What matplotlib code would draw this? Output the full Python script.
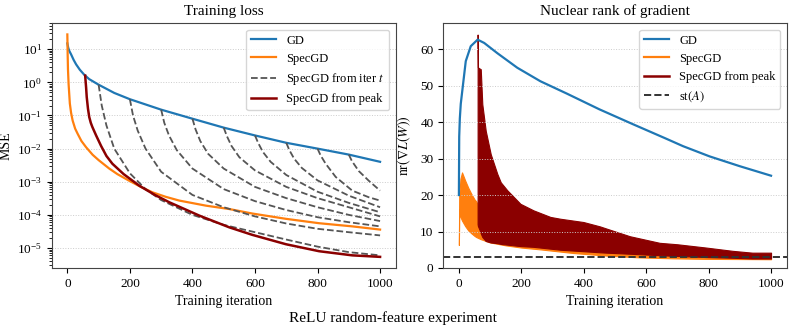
import matplotlib
matplotlib.use("Agg")
import matplotlib.pyplot as plt
from matplotlib.lines import Line2D
import numpy as np

plt.rcParams['font.family'] = ['Liberation Serif', 'DejaVu Serif']
plt.rcParams['mathtext.fontset'] = 'stix'

# ---- training loss (left) ----
gd_it = [0, 3, 6, 12, 20, 28, 40, 54, 70, 100, 150, 200, 300, 400, 500, 600, 700, 800, 900, 1000]
gd_loss = [15, 11, 9, 7, 4.8, 3.5, 2.4, 1.7, 1.25, 0.85, 0.48, 0.31, 0.15, 0.08, 0.043,
           0.025, 0.015, 0.01, 0.0066, 0.004]

spec_it = [0, 1, 2, 4, 8, 12, 17, 25, 33, 45, 60, 81, 100, 134, 160, 198, 235, 272, 315, 358,
           443, 518, 591, 699, 805, 911, 1000]
spec_loss = [28, 7, 2.5, 0.9, 0.23, 0.12, 0.07, 0.04, 0.028, 0.017, 0.011, 6.5e-3, 4.5e-3,
             2.5e-3, 1.7e-3, 1.07e-3, 7e-4, 4.8e-4, 3.5e-4, 2.7e-4, 1.9e-4, 1.5e-4, 1.1e-4,
             7.6e-5, 5.6e-5, 4.5e-5, 3.6e-5]

peak_it = [57, 60, 62, 66, 70, 75, 80, 92, 108, 125, 144, 180, 230, 280, 326, 422, 518, 591,
           699, 805, 911, 1000]
peak_loss = [1.6, 0.7, 0.36, 0.16, 0.09, 0.06, 0.045, 0.025, 0.012, 6e-3, 3.5e-3, 1.7e-3,
             7.6e-4, 4e-4, 2.4e-4, 9.5e-5, 4.2e-5, 2.5e-5, 1.3e-5, 8e-6, 6e-6, 5.4e-6]

# SpecGD restarted from iteration t (one list per restart)
from_it = [
    [100, 110, 125, 150, 200, 250, 300, 400, 500, 600, 700, 800, 900, 1000],
    [200, 210, 225, 250, 300, 400, 500, 600, 700, 800, 900, 1000],
    [300, 310, 325, 350, 400, 500, 600, 700, 800, 900, 1000],
    [400, 410, 425, 450, 500, 600, 700, 800, 900, 1000],
    [500, 510, 525, 550, 600, 700, 800, 900, 1000],
    [600, 610, 625, 650, 700, 800, 900, 1000],
    [700, 710, 725, 750, 800, 900, 1000],
    [800, 810, 826, 858, 911, 964, 1000],
    [900, 910, 932, 964, 1000],
]
from_loss = [
    [0.85, 0.2, 0.05, 0.01, 1.8e-3, 6e-4, 2.8e-4, 1e-4, 5e-5, 3e-5, 1.8e-5, 1.1e-5, 7.5e-6, 6e-6],
    [0.31, 0.1, 0.035, 0.01, 2e-3, 4e-4, 1.7e-4, 9e-5, 5.5e-5, 3.8e-5, 3e-5, 2.4e-5],
    [0.15, 0.06, 0.025, 9e-3, 2.5e-3, 6e-4, 2.6e-4, 1.4e-4, 8.5e-5, 6e-5, 4.5e-5],
    [0.08, 0.038, 0.017, 7e-3, 2.5e-3, 7e-4, 3.2e-4, 1.7e-4, 1e-4, 6.5e-5],
    [0.043, 0.024, 0.012, 5.5e-3, 2.2e-3, 7e-4, 3.2e-4, 1.7e-4, 9e-5],
    [0.025, 0.015, 8e-3, 4e-3, 1.6e-3, 5e-4, 2.3e-4, 1.2e-4],
    [0.015, 9e-3, 5e-3, 2.6e-3, 1.1e-3, 3.8e-4, 1.7e-4],
    [0.01, 6.2e-3, 3.5e-3, 1.4e-3, 5.4e-4, 3.4e-4, 2.7e-4],
    [0.0066, 4.2e-3, 2.1e-3, 1.07e-3, 5.4e-4],
]

# ---- nuclear rank (right) ----
gd_nr_it = [0, 1, 3, 6, 12, 22, 38, 60, 81, 123, 187, 261, 346, 450, 558, 660, 718, 803, 900, 1000]
gd_nr = [20, 36, 41, 45, 49.4, 56.7, 60.8, 62.6, 61.7, 58.9, 54.9, 51.2, 47.8, 43.5, 39.4,
         35.6, 33.4, 30.6, 27.9, 25.3]

spec_nr_it = [0, 1, 3, 5, 10, 20, 30, 40, 50, 55, 70, 100, 150, 200, 261, 367, 473, 580, 686, 790, 900, 1000]
spec_nr_hi = [6.3, 20, 22, 24.5, 26.2, 24, 22, 20.3, 18.8, 18.3, 16, 13, 10, 8, 6.5, 5.2, 4.5,
              4.0, 3.5, 3.1, 2.8, 2.6]
spec_nr_lo = [6.3, 16, 15, 14, 13, 11.5, 10.3, 9.5, 8.8, 8.5, 7.9, 7.0, 6.2, 5.6, 5.1, 4.1, 3.4,
              2.9, 2.65, 2.5, 2.45, 2.4]

peak_nr_it = [60, 61, 66, 70, 75, 86, 102, 123, 134, 155, 197, 239, 293, 325, 399, 452, 473, 548,
              643, 700, 792, 877, 940, 1000]
peak_nr_hi = [64, 55, 54.7, 54.5, 44.9, 37.6, 31.2, 25.8, 23.5, 21.3, 17.6, 15.8, 14.0, 13.5,
              12.6, 11.4, 10.8, 8.7, 6.9, 6.5, 5.6, 4.7, 4.2, 4.2]
peak_nr_lo = [12, 11.5, 10.5, 9.5, 8.5, 7.4, 7.0, 6.8, 6.6, 6.4, 6.0, 5.8, 5.3, 5.0, 4.6, 4.3,
              4.2, 3.9, 3.5, 3.3, 3.0, 2.8, 2.6, 2.6]

st_A = 3.0

c_gd = '#1f77b4'
c_spec = '#ff7f0e'
c_peak = '#8b0000'
c_dash = '#555555'

fig = plt.figure(figsize=(7.93, 3.32), dpi=100)
ax1 = fig.add_axes([0.0652, 0.1928, 0.4338, 0.737])
ax2 = fig.add_axes([0.559, 0.1928, 0.433, 0.737])

ax1.plot(gd_it, gd_loss, color=c_gd, lw=1.6, label='GD')
ax1.plot(spec_it, spec_loss, color=c_spec, lw=1.6, label='SpecGD')
for k in range(len(from_it)):
    ax1.plot(from_it[k], from_loss[k], color=c_dash, lw=1.3, ls='--',
             label='SpecGD from iter $t$' if k == 0 else None)
ax1.plot(peak_it, peak_loss, color=c_peak, lw=1.8, label='SpecGD from peak')
ax1.set_yscale('log')
ax1.set_title('Training loss', fontsize=11)
ax1.set_xlabel('Training iteration', fontsize=10)
ax1.set_ylabel('MSE', fontsize=10)
ax1.yaxis.set_label_coords(-0.115, 0.5)
ax1.legend(loc='upper right', fontsize=9)

ax2.plot(gd_nr_it, gd_nr, color=c_gd, lw=1.6)
ax2.fill_between(spec_nr_it, spec_nr_lo, spec_nr_hi, color=c_spec, lw=0.8)
ax2.fill_between(peak_nr_it, peak_nr_lo, peak_nr_hi, color=c_peak, lw=0.8)
ax2.axhline(st_A, color='#333333', lw=1.4, ls='--')
ax2.set_ylim(bottom=0)
ax2.set_title('Nuclear rank of gradient', fontsize=11)
ax2.set_xlabel('Training iteration', fontsize=10)
ax2.set_ylabel(r'$\mathrm{nr}(\nabla L(W))$', fontsize=10)
ax2.yaxis.set_label_coords(-0.088, 0.5)
handles = [Line2D([], [], color=c_gd, lw=1.6),
           Line2D([], [], color=c_spec, lw=1.6),
           Line2D([], [], color=c_peak, lw=1.8),
           Line2D([], [], color='#333333', lw=1.4, ls='--')]
ax2.legend(handles, ['GD', 'SpecGD', 'SpecGD from peak', r'st$(A)$'],
           loc='upper right', fontsize=9)

for ax in (ax1, ax2):
    ax.set_xticks([0, 200, 400, 600, 800, 1000])
    ax.tick_params(labelsize=9.5)
    ax.grid(axis='y', which='major', ls=':', color='#cccccc', lw=0.7)
    for s in ax.spines.values():
        s.set_color('#444444')

fig.text(0.495, 0.042, 'ReLU random-feature experiment', ha='center', va='center', fontsize=11)

fig.savefig('out.png', dpi=100)
